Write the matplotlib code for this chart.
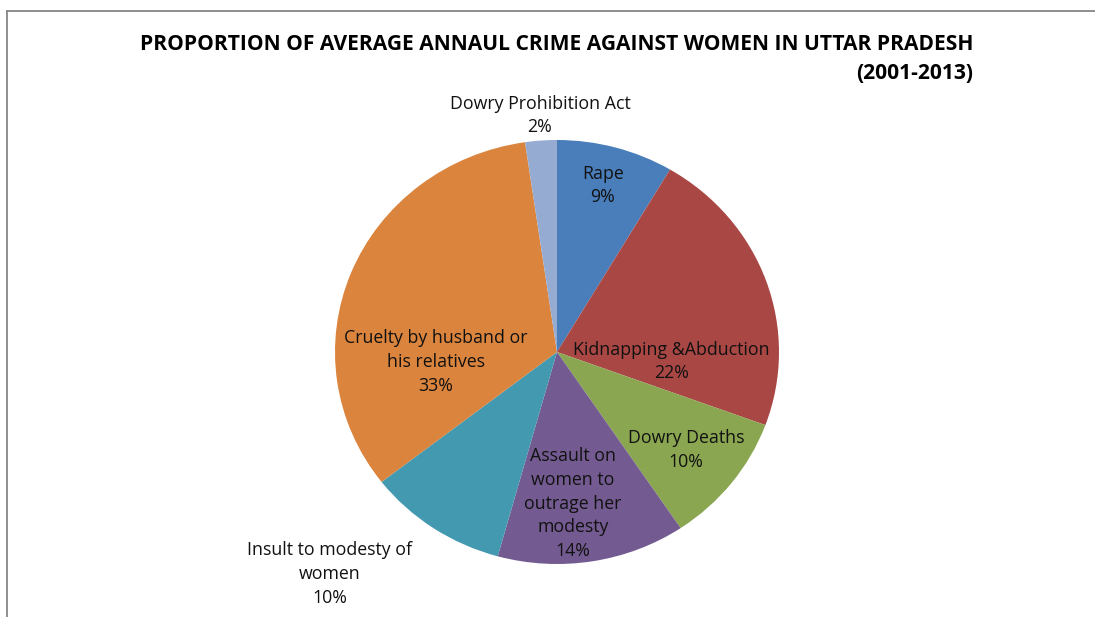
import matplotlib
matplotlib.use("Agg")
import matplotlib.pyplot as plt
from matplotlib.lines import Line2D

categories = ["Rape", "Kidnapping &Abduction", "Dowry Deaths",
              "Assault on\nwomen to\noutrage her\nmodesty",
              "Insult to modesty of\nwomen",
              "Cruelty by husband or\nhis relatives",
              "Dowry Prohibition Act"]
values = [8.5, 22.1, 10.0, 13.7, 10.2, 33.2, 2.3]
pct_labels = ["9%", "22%", "10%", "14%", "10%", "33%", "2%"]
title = "PROPORTION OF AVERAGE ANNAUL CRIME AGAINST WOMEN IN UTTAR PRADESH\n(2001-2013)"

colors = ["#4A7EBB", "#A94744", "#8AA650", "#735B91", "#4299B0", "#DB843D", "#95ABD2"]
# label centres in pie-radius units (style/layout)
label_pos = [(0.207, 0.785), (0.514, -0.045), (0.581, -0.462), (0.072, -0.715),
             (-1.023, -1.047), (-0.545, -0.047), (-0.077, 1.116)]

W, H = 1095, 617
fig = plt.figure(figsize=(W / 100, H / 100), dpi=100)
plt.rcParams['font.family'] = ['Open Sans', 'DejaVu Sans']

cx, cy, rx, ry = 557, 352, 222, 212
ax = fig.add_axes([(cx - rx) / W, (H - cy - ry) / H, 2 * rx / W, 2 * ry / H])
ax.pie(values, colors=colors, startangle=90, counterclock=False,
       wedgeprops=dict(linewidth=0), radius=1.0, normalize=True)
ax.set_aspect('auto')
ax.set_xlim(-1, 1)
ax.set_ylim(-1, 1)
ax.axis('off')

for cat, pct, (lx, ly) in zip(categories, pct_labels, label_pos):
    ax.text(lx, ly, cat + "\n" + pct, ha='center', va='center', fontsize=12.8,
            color='#111111', linespacing=1.4, clip_on=False)

fig.text(973 / W, 1 - 59 / H, title, ha='right', va='center', fontsize=15.1,
         fontweight='bold', color='black', linespacing=1.45)

# chart border (left and top)
fig.add_artist(Line2D([7 / W, 7 / W], [0, 1 - 11 / H], transform=fig.transFigure,
                      color='#868686', linewidth=1.3))
fig.add_artist(Line2D([7 / W, 1], [1 - 11 / H, 1 - 11 / H], transform=fig.transFigure,
                      color='#868686', linewidth=1.3))

fig.savefig("out.png", dpi=100)
